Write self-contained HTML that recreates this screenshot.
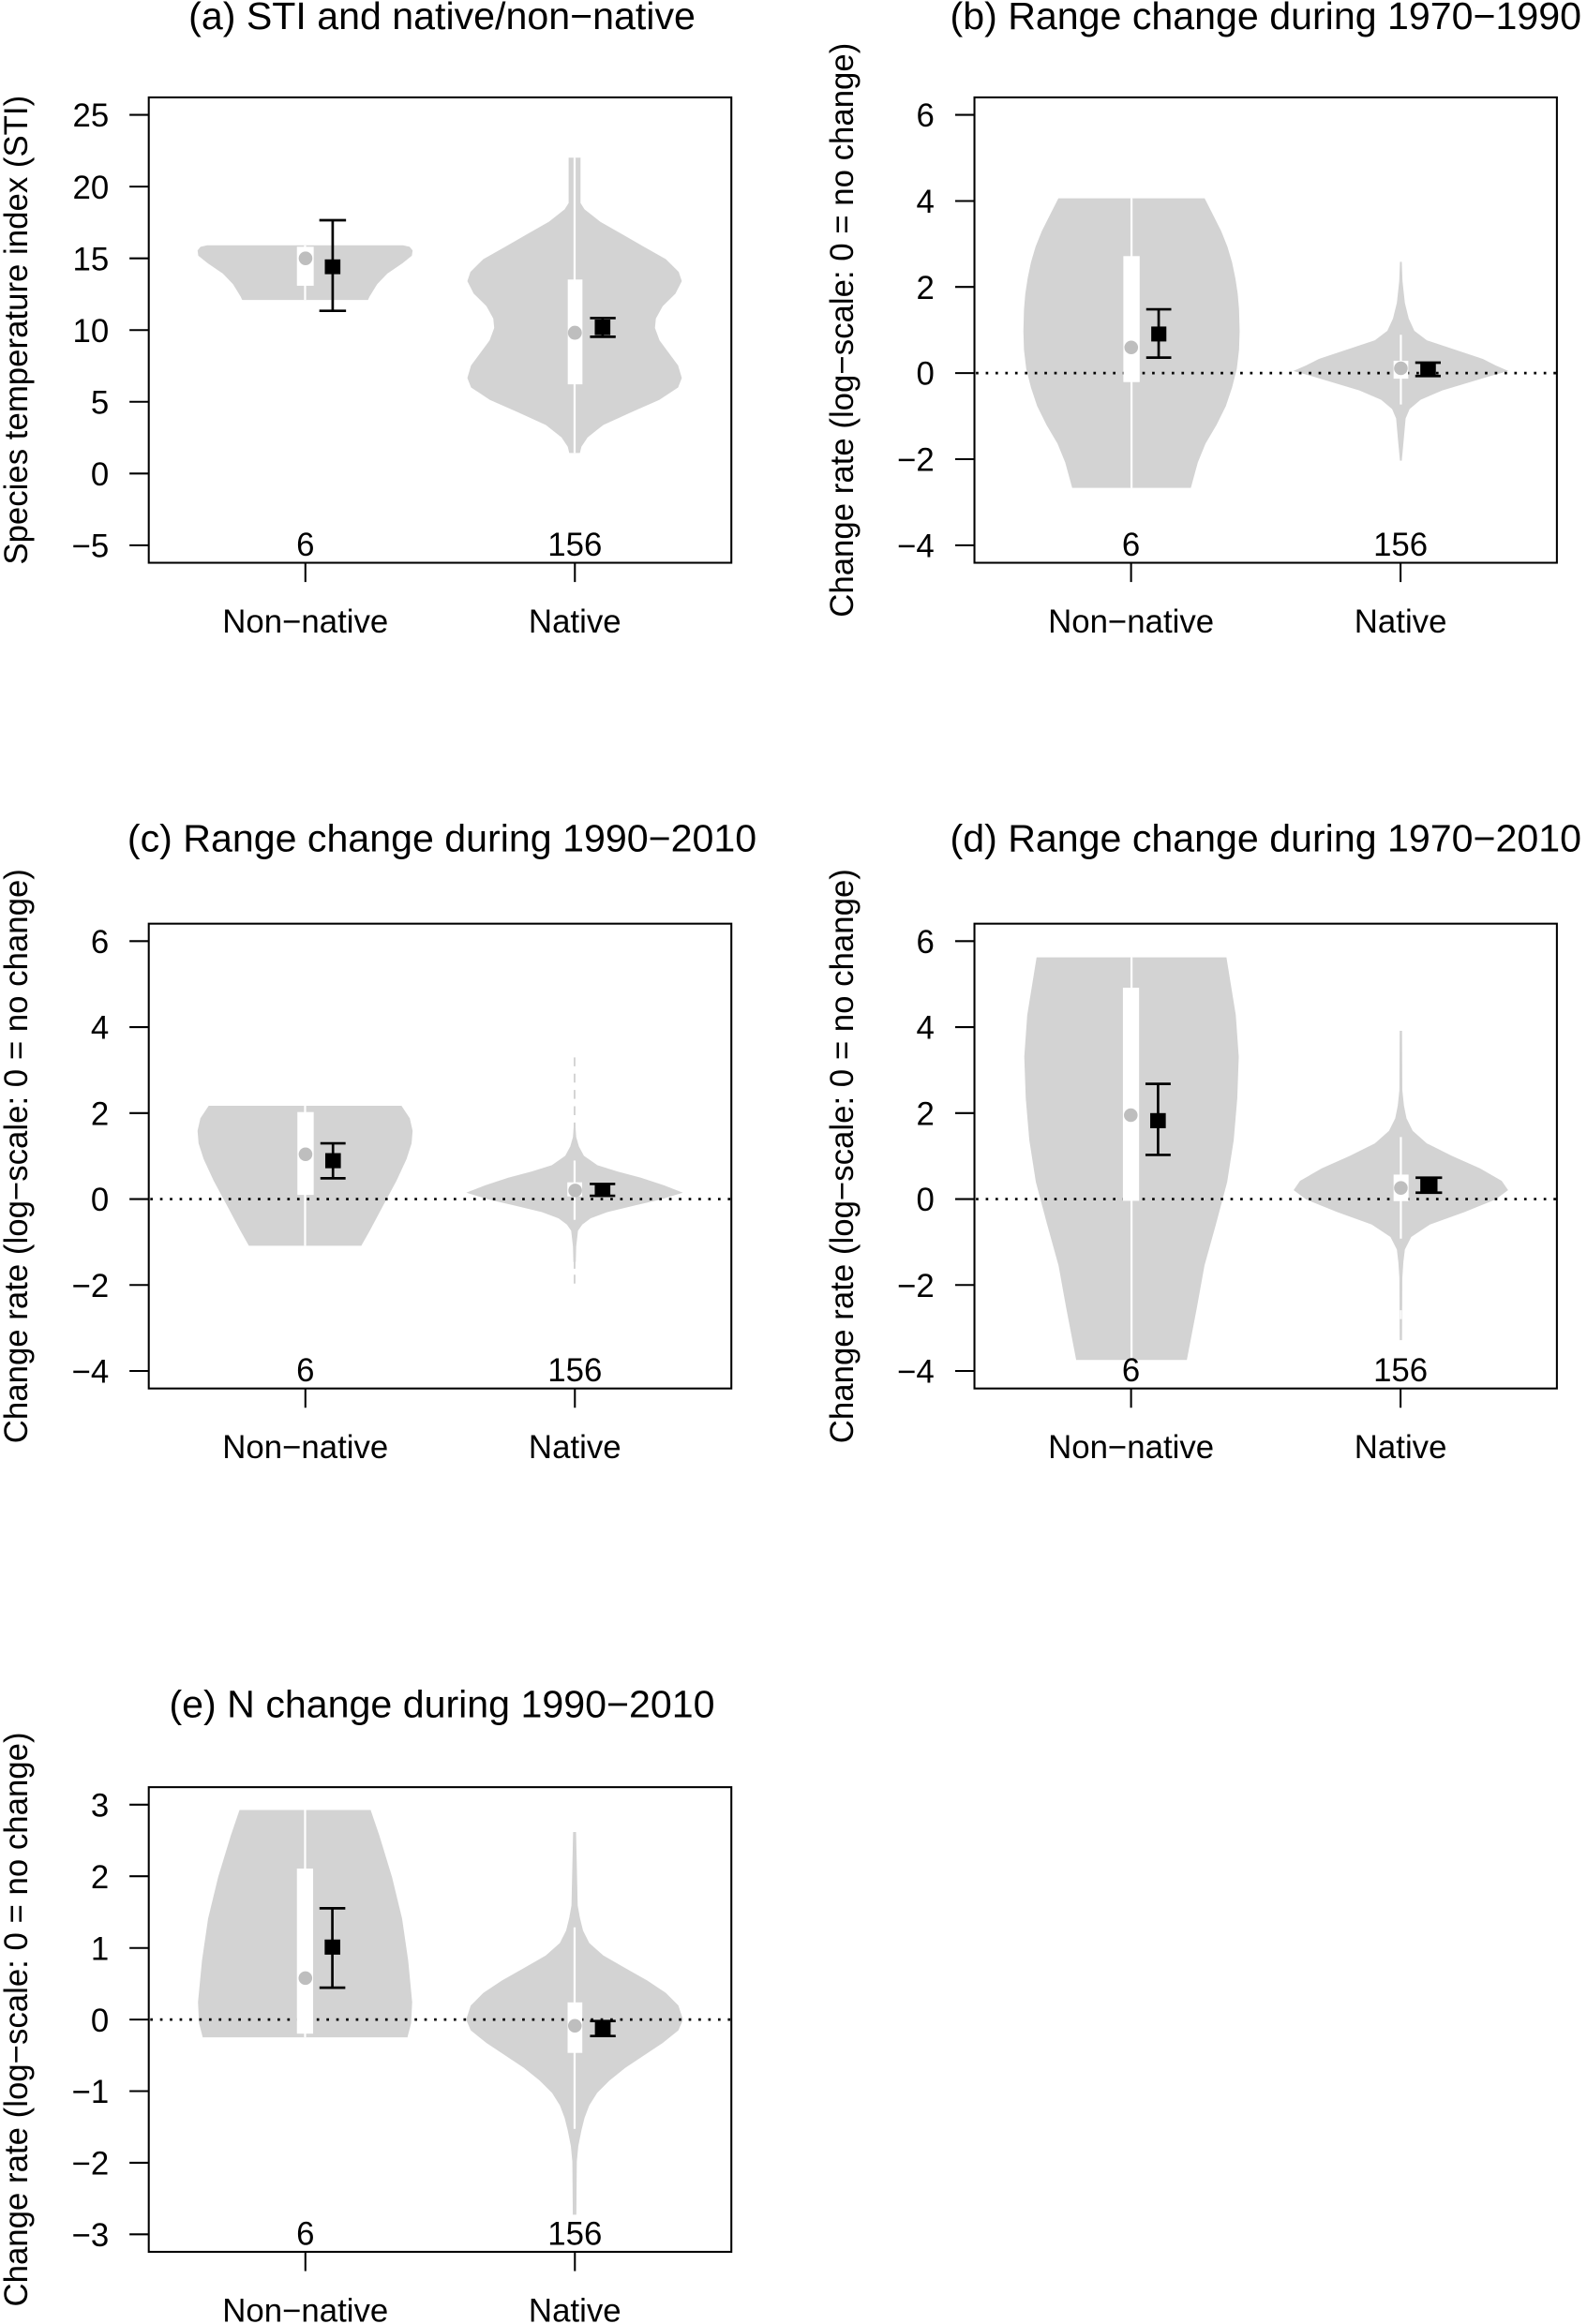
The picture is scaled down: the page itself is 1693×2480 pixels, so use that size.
<!DOCTYPE html>
<html><head><meta charset="utf-8"><style>
html,body{margin:0;padding:0;background:#fff;}
svg{display:block;}
text{font-family:"Liberation Sans",Arial,sans-serif;fill:#000;}
</style></head><body>
<svg width="1693" height="2480" viewBox="0 0 1070 1568" preserveAspectRatio="none" xmlns="http://www.w3.org/2000/svg">
<rect x="0" y="0" width="1070" height="1568" fill="#fff"/>

<!-- ================= PANEL (a) ================= -->
<g>
<polygon fill="#d3d3d3" points="139.7,165.5 135.2,166.5 133.2,169 133.7,172.5 140,177.6 150.3,184.6 157.1,191.7 160.5,197.3 162.2,200 163.3,202.4 248.1,202.4 249.2,200 250.9,197.3 254.3,191.7 261.1,184.6 271.4,177.6 277.7,172.5 278.2,169 276.2,166.5 271.7,165.5"/>
<polygon fill="#d3d3d3" points="383.4,106.4 383.4,137 380.7,141.2 370.1,149.6 355.4,158 340.6,166.5 325.8,174.9 317.2,183.4 315.1,189.7 319.4,198.1 328,206.6 332.6,215 333.2,221.3 330.1,229.7 323.8,238.2 317.6,246.6 315.1,255 317.6,261.4 330.3,269.8 349.3,278.2 368,286.7 378.6,295.1 382.8,301.4 383.8,305.6 391,305.6 392,301.4 396.2,295.1 406.8,286.7 425.5,278.2 444.5,269.8 457.2,261.4 459.7,255 457.2,246.6 451,238.2 444.7,229.7 441.6,221.3 442.2,215 446.8,206.6 455.4,198.1 459.7,189.7 457.6,183.4 449,174.9 434.2,166.5 419.4,158 404.7,149.6 394.1,141.2 391.4,137 391.4,106.4"/>
<line x1="205.7" y1="165.5" x2="205.7" y2="202.4" stroke="#fff" stroke-width="1.4"/>
<line x1="387.4" y1="106.4" x2="387.4" y2="305.6" stroke="#fff" stroke-width="1.4"/>
<rect x="200.2" y="166.5" width="11.3" height="26.3" fill="#fff"/>
<rect x="382.8" y="188.6" width="9.9" height="70.7" fill="#fff"/>
<circle cx="206" cy="174.3" r="4.6" fill="#bebebe"/>
<circle cx="387.6" cy="224.5" r="4.7" fill="#bebebe"/>
<g stroke="#000" stroke-width="1.7">
<line x1="224.3" y1="148.6" x2="224.3" y2="209.7"/><line x1="215.3" y1="148.6" x2="233.3" y2="148.6"/><line x1="215.3" y1="209.7" x2="233.3" y2="209.7"/>
<line x1="406.3" y1="214.6" x2="406.3" y2="227.2"/><line x1="397.8" y1="214.6" x2="415.1" y2="214.6"/><line x1="397.8" y1="227.2" x2="415.1" y2="227.2"/>
</g>
<rect x="219" y="175" width="10.5" height="10" fill="#000"/>
<rect x="401" y="215.6" width="10.5" height="10.5" fill="#000"/>
<rect x="100.3" y="65.7" width="392.8" height="314" fill="none" stroke="#000" stroke-width="1.3"/>
<g stroke="#000" stroke-width="1.3">
<line x1="87.3" y1="77.5" x2="100.3" y2="77.5"/><line x1="87.3" y1="125.9" x2="100.3" y2="125.9"/><line x1="87.3" y1="174.3" x2="100.3" y2="174.3"/><line x1="87.3" y1="222.7" x2="100.3" y2="222.7"/><line x1="87.3" y1="271.1" x2="100.3" y2="271.1"/><line x1="87.3" y1="319.5" x2="100.3" y2="319.5"/><line x1="87.3" y1="367.9" x2="100.3" y2="367.9"/>
<line x1="205.9" y1="379.7" x2="205.9" y2="392.7"/><line x1="387.6" y1="379.7" x2="387.6" y2="392.7"/>
</g>
<g font-size="22" text-anchor="end">
<text x="73.5" y="85.5">25</text><text x="73.5" y="133.9">20</text><text x="73.5" y="182.3">15</text><text x="73.5" y="230.7">10</text><text x="73.5" y="279.1">5</text><text x="73.5" y="327.5">0</text><text x="73.5" y="375.9">−5</text>
</g>
<g font-size="22" text-anchor="middle">
<text x="205.9" y="375">6</text><text x="387.6" y="375">156</text>
<text x="205.9" y="426.7">Non−native</text><text x="387.6" y="426.7">Native</text>
<text transform="translate(18.3,222.7) rotate(-90)">Species temperature index (STI)</text>
</g>
<text x="298" y="19.5" font-size="26" text-anchor="middle">(a) STI and native/non−native</text>
</g>

<!-- ================= PANEL (b) ================= -->
<g>
<polygon fill="#d3d3d3" points="713.6,133.8 707.7,145.4 702.4,156 698.2,166.5 695.1,177 692.9,187.6 691.3,198.1 690.4,208.7 690,223.4 690.4,236.1 691.9,248.7 695.1,261.4 699.3,274 705.6,286.7 713,299.3 718.2,312 722.9,329.2 802.9,329.2 807.6,312 812.8,299.3 820.2,286.7 826.5,274 830.7,261.4 833.9,248.7 835.4,236.1 835.8,223.4 835.4,208.7 834.5,198.1 832.9,187.6 830.7,177 827.6,166.5 823.4,156 818.1,145.4 812.2,133.8"/>
<polygon fill="#d3d3d3" points="943.9,176.6 943.4,189.7 941.8,204.4 939.2,214.9 935.4,223.2 927,229.6 908,235.9 889.1,242.2 880.7,246.5 872,250.3 884.9,253.9 895.4,257.1 916.5,263.4 931.2,269.7 938.6,276 941.3,282.4 942.8,299.2 943.9,310.8 945.1,310.8 946.2,299.2 947.7,282.4 950.4,276 957.8,269.7 972.5,263.4 993.6,257.1 1004.1,253.9 1017,250.3 1008.3,246.5 999.9,242.2 981,235.9 962,229.6 953.6,223.2 949.8,214.9 947.2,204.4 945.6,189.7 945.1,176.6"/>
<line x1="762.9" y1="133.8" x2="762.9" y2="329.2" stroke="#fff" stroke-width="1.4"/>
<line x1="944.5" y1="225.9" x2="944.5" y2="272.9" stroke="#fff" stroke-width="1.4"/>
<line x1="658" y1="251.7" x2="1049.7" y2="251.7" stroke="#000" stroke-width="1.7" stroke-dasharray="1.7,4.9"/>
<rect x="757.4" y="172.8" width="11" height="85" fill="#fff"/>
<rect x="939.6" y="243.4" width="9.9" height="12.1" fill="#fff"/>
<circle cx="762.7" cy="234.4" r="4.6" fill="#bebebe"/>
<circle cx="944.5" cy="248.5" r="4.6" fill="#bebebe"/>
<g stroke="#000" stroke-width="1.7">
<line x1="781.2" y1="208.7" x2="781.2" y2="241.3"/><line x1="772.8" y1="208.7" x2="789.7" y2="208.7"/><line x1="772.8" y1="241.3" x2="789.7" y2="241.3"/>
<line x1="962.8" y1="244.7" x2="962.8" y2="253.7"/><line x1="954.2" y1="244.7" x2="971.4" y2="244.7"/><line x1="954.2" y1="253.7" x2="971.4" y2="253.7"/>
</g>
<rect x="776.2" y="220.3" width="10.2" height="10.1" fill="#000"/>
<rect x="957.6" y="244.6" width="10.5" height="9" fill="#000"/>
<rect x="657" y="65.7" width="392.7" height="314" fill="none" stroke="#000" stroke-width="1.3"/>
<g stroke="#000" stroke-width="1.3">
<line x1="644" y1="77.5" x2="657" y2="77.5"/><line x1="644" y1="135.6" x2="657" y2="135.6"/><line x1="644" y1="193.6" x2="657" y2="193.6"/><line x1="644" y1="251.7" x2="657" y2="251.7"/><line x1="644" y1="309.8" x2="657" y2="309.8"/><line x1="644" y1="367.9" x2="657" y2="367.9"/>
<line x1="762.6" y1="379.7" x2="762.6" y2="392.7"/><line x1="944.3" y1="379.7" x2="944.3" y2="392.7"/>
</g>
<g font-size="22" text-anchor="end">
<text x="630" y="85.5">6</text><text x="630" y="143.6">4</text><text x="630" y="201.6">2</text><text x="630" y="259.7">0</text><text x="630" y="317.8">−2</text><text x="630" y="375.9">−4</text>
</g>
<g font-size="22" text-anchor="middle">
<text x="762.6" y="375">6</text><text x="944.3" y="375">156</text>
<text x="762.6" y="426.7">Non−native</text><text x="944.3" y="426.7">Native</text>
<text transform="translate(575,222.7) rotate(-90)">Change rate (log−scale: 0 = no change)</text>
</g>
<text x="853.4" y="19.5" font-size="26" text-anchor="middle">(b) Range change during 1970−1990</text>
</g>

<!-- ================= PANEL (c) ================= -->
<g>
<polygon fill="#d3d3d3" points="140.7,746.1 135.1,754.5 133.2,763 133.9,771.4 137.3,782 144.1,796.7 153.1,813.5 162.1,830.4 167.8,840.5 243.6,840.5 249.3,830.4 258.3,813.5 267.3,796.7 274.1,782 277.5,771.4 278.2,763 276.3,754.5 270.7,746.1"/>
<polygon fill="#d3d3d3" points="386.9,758.7 386.3,767.2 384.5,773.5 381.1,779.8 372.1,786.1 358.5,790.4 342.7,794.6 326.9,799.8 314.4,804.7 329.4,809.3 347.4,813.5 365.4,817.8 376.6,822 382.2,826.2 385.1,830.4 386.3,841 386.6,851.5 388.2,851.5 388.5,841 389.7,830.4 392.6,826.2 398.2,822 409.4,817.8 427.4,813.5 445.4,809.3 460.4,804.7 447.9,799.8 432.1,794.6 416.3,790.4 402.7,786.1 393.7,779.8 390.3,773.5 388.5,767.2 387.9,758.7"/>
<line x1="387.4" y1="713.4" x2="387.4" y2="760" stroke="#d3d3d3" stroke-width="1.2" stroke-dasharray="6,5"/>
<line x1="387.4" y1="850" x2="387.4" y2="869.4" stroke="#d3d3d3" stroke-width="1.2" stroke-dasharray="6,4"/>
<line x1="205.7" y1="746.1" x2="205.7" y2="840.5" stroke="#fff" stroke-width="1.4"/>
<line x1="387.4" y1="783" x2="387.4" y2="823" stroke="#fff" stroke-width="1.4"/>
<line x1="101.3" y1="809" x2="493.1" y2="809" stroke="#000" stroke-width="1.7" stroke-dasharray="1.7,4.9"/>
<rect x="200.5" y="750.3" width="11" height="55.9" fill="#fff"/>
<rect x="382.5" y="797.7" width="10" height="9.5" fill="#fff"/>
<circle cx="206" cy="778.8" r="4.6" fill="#bebebe"/>
<circle cx="387.8" cy="803.2" r="4.6" fill="#bebebe"/>
<g stroke="#000" stroke-width="1.7">
<line x1="224.5" y1="771.4" x2="224.5" y2="795"/><line x1="216" y1="771.4" x2="233" y2="771.4"/><line x1="216" y1="795" x2="233" y2="795"/>
<line x1="406.2" y1="798.8" x2="406.2" y2="806.8"/><line x1="397.6" y1="798.8" x2="414.8" y2="798.8"/><line x1="397.6" y1="806.8" x2="414.8" y2="806.8"/>
</g>
<rect x="219.3" y="778" width="10.5" height="10.2" fill="#000"/>
<rect x="401" y="798.6" width="10.5" height="9" fill="#000"/>
<rect x="100.3" y="623.2" width="392.8" height="313.6" fill="none" stroke="#000" stroke-width="1.3"/>
<g stroke="#000" stroke-width="1.3">
<line x1="87.3" y1="635" x2="100.3" y2="635"/><line x1="87.3" y1="693" x2="100.3" y2="693"/><line x1="87.3" y1="751" x2="100.3" y2="751"/><line x1="87.3" y1="809" x2="100.3" y2="809"/><line x1="87.3" y1="867" x2="100.3" y2="867"/><line x1="87.3" y1="925" x2="100.3" y2="925"/>
<line x1="205.9" y1="936.8" x2="205.9" y2="949.8"/><line x1="387.6" y1="936.8" x2="387.6" y2="949.8"/>
</g>
<g font-size="22" text-anchor="end">
<text x="73.5" y="643">6</text><text x="73.5" y="701">4</text><text x="73.5" y="759">2</text><text x="73.5" y="817">0</text><text x="73.5" y="875">−2</text><text x="73.5" y="933">−4</text>
</g>
<g font-size="22" text-anchor="middle">
<text x="205.9" y="932.1">6</text><text x="387.6" y="932.1">156</text>
<text x="205.9" y="983.8">Non−native</text><text x="387.6" y="983.8">Native</text>
<text transform="translate(18.3,780) rotate(-90)">Change rate (log−scale: 0 = no change)</text>
</g>
<text x="298" y="574.5" font-size="26" text-anchor="middle">(c) Range change during 1990−2010</text>
</g>

<!-- ================= PANEL (d) ================= -->
<g>
<polygon fill="#d3d3d3" points="698.9,645.9 692.6,684.8 690.6,713 691.6,741.1 694,769.3 698.4,797.5 705.9,825.7 713.7,853.9 718.8,882.1 725.6,917.6 800.2,917.6 807,882.1 812.1,853.9 819.9,825.7 827.4,797.5 831.8,769.3 834.2,741.1 835.2,713 833.2,684.8 826.9,645.9"/>
<polygon fill="#d3d3d3" points="943.7,695.5 943.5,735.6 942.4,746.1 940.7,754.5 936.5,763 927,771.4 910.2,779.8 891.2,788.3 876.5,796.7 872.2,803 880.7,809.3 901.7,817.8 924.9,826.2 937.5,834.6 941.8,843 942.8,851.5 943.5,862 943.7,904.2 945.3,904.2 945.5,862 946.2,851.5 947.2,843 951.5,834.6 964.1,826.2 987.3,817.8 1008.3,809.3 1016.8,803 1012.5,796.7 997.8,788.3 978.8,779.8 962,771.4 952.5,763 948.3,754.5 946.6,746.1 945.5,735.6 945.3,695.5"/>
<line x1="762.9" y1="645.9" x2="762.9" y2="917.6" stroke="#fff" stroke-width="1.4"/>
<line x1="944.5" y1="767.2" x2="944.5" y2="835.7" stroke="#fff" stroke-width="1.4"/>
<line x1="944.5" y1="884" x2="944.5" y2="890" stroke="#fff" stroke-width="1.2"/>
<line x1="658" y1="809" x2="1049.7" y2="809" stroke="#000" stroke-width="1.7" stroke-dasharray="1.7,4.9"/>
<rect x="757.1" y="666.4" width="10.9" height="143.8" fill="#fff"/>
<rect x="939.6" y="792.5" width="10.1" height="17.9" fill="#fff"/>
<circle cx="762.4" cy="752.4" r="4.6" fill="#bebebe"/>
<circle cx="944.5" cy="801.5" r="4.6" fill="#bebebe"/>
<g stroke="#000" stroke-width="1.7">
<line x1="780.8" y1="731.3" x2="780.8" y2="779.2"/><line x1="772.3" y1="731.3" x2="789.3" y2="731.3"/><line x1="772.3" y1="779.2" x2="789.3" y2="779.2"/>
<line x1="963.4" y1="794.6" x2="963.4" y2="804.7"/><line x1="954.4" y1="794.6" x2="972.3" y2="794.6"/><line x1="954.4" y1="804.7" x2="972.3" y2="804.7"/>
</g>
<rect x="775.5" y="751" width="10.5" height="10.2" fill="#000"/>
<rect x="957.6" y="795" width="11.6" height="9.2" fill="#000"/>
<rect x="657" y="623.2" width="392.7" height="313.6" fill="none" stroke="#000" stroke-width="1.3"/>
<g stroke="#000" stroke-width="1.3">
<line x1="644" y1="635" x2="657" y2="635"/><line x1="644" y1="693" x2="657" y2="693"/><line x1="644" y1="751" x2="657" y2="751"/><line x1="644" y1="809" x2="657" y2="809"/><line x1="644" y1="867" x2="657" y2="867"/><line x1="644" y1="925" x2="657" y2="925"/>
<line x1="762.6" y1="936.8" x2="762.6" y2="949.8"/><line x1="944.3" y1="936.8" x2="944.3" y2="949.8"/>
</g>
<g font-size="22" text-anchor="end">
<text x="630" y="643">6</text><text x="630" y="701">4</text><text x="630" y="759">2</text><text x="630" y="817">0</text><text x="630" y="875">−2</text><text x="630" y="933">−4</text>
</g>
<g font-size="22" text-anchor="middle">
<text x="762.6" y="932.1">6</text><text x="944.3" y="932.1">156</text>
<text x="762.6" y="983.8">Non−native</text><text x="944.3" y="983.8">Native</text>
<text transform="translate(575,780) rotate(-90)">Change rate (log−scale: 0 = no change)</text>
</g>
<text x="853.4" y="574.5" font-size="26" text-anchor="middle">(d) Range change during 1970−2010</text>
</g>

<!-- ================= PANEL (e) ================= -->
<g>
<polygon fill="#d3d3d3" points="161.5,1221.2 155.7,1238.2 147.1,1266.4 140.3,1294.5 136.2,1322.7 133.5,1350.9 134.2,1365 136.7,1374.6 274.7,1374.6 277.2,1365 277.9,1350.9 275.2,1322.7 271.1,1294.5 264.3,1266.4 255.7,1238.2 249.9,1221.2"/>
<polygon fill="#d3d3d3" points="386.4,1236.1 385.3,1285.6 383.8,1294 381.7,1302.5 377.5,1310.9 368,1319.4 353.3,1327.8 338.5,1336.2 325.9,1344.6 317.4,1353.1 314.3,1362.6 317.4,1369.9 328,1378.4 340.6,1386.8 353.3,1395.2 363.8,1403.7 372.2,1412.1 377.5,1420.5 380.7,1429 382.8,1437.4 384.9,1448 385.9,1458.5 386.2,1494.3 388.6,1494.3 388.9,1458.5 389.9,1448 392,1437.4 394.1,1429 397.3,1420.5 402.6,1412.1 411,1403.7 421.5,1395.2 434.2,1386.8 446.8,1378.4 457.4,1369.9 460.5,1362.6 457.4,1353.1 448.9,1344.6 436.3,1336.2 421.5,1327.8 406.8,1319.4 397.3,1310.9 393.1,1302.5 391,1294 389.5,1285.6 388.4,1236.1"/>
<line x1="205.7" y1="1221.2" x2="205.7" y2="1374.6" stroke="#fff" stroke-width="1.4"/>
<line x1="387.4" y1="1300.4" x2="387.4" y2="1436.3" stroke="#fff" stroke-width="1.4"/>
<line x1="101.3" y1="1362.6" x2="493.1" y2="1362.6" stroke="#000" stroke-width="1.7" stroke-dasharray="1.7,4.9"/>
<rect x="200.2" y="1260.7" width="10.9" height="111.4" fill="#fff"/>
<rect x="382.7" y="1351" width="9.9" height="34.1" fill="#fff"/>
<circle cx="205.9" cy="1334.6" r="4.6" fill="#bebebe"/>
<circle cx="387.6" cy="1366.8" r="4.6" fill="#bebebe"/>
<g stroke="#000" stroke-width="1.7">
<line x1="224.1" y1="1287.5" x2="224.1" y2="1341.1"/><line x1="215.4" y1="1287.5" x2="232.8" y2="1287.5"/><line x1="215.4" y1="1341.1" x2="232.8" y2="1341.1"/>
<line x1="406.4" y1="1363.6" x2="406.4" y2="1373.7"/><line x1="397.8" y1="1363.6" x2="415.1" y2="1363.6"/><line x1="397.8" y1="1373.7" x2="415.1" y2="1373.7"/>
</g>
<rect x="218.9" y="1308.6" width="10.5" height="10.2" fill="#000"/>
<rect x="401.1" y="1363.6" width="10.6" height="10" fill="#000"/>
<rect x="100.3" y="1205.8" width="392.8" height="313.5" fill="none" stroke="#000" stroke-width="1.3"/>
<g stroke="#000" stroke-width="1.3">
<line x1="87.3" y1="1217.6" x2="100.3" y2="1217.6"/><line x1="87.3" y1="1265.9" x2="100.3" y2="1265.9"/><line x1="87.3" y1="1314.3" x2="100.3" y2="1314.3"/><line x1="87.3" y1="1362.6" x2="100.3" y2="1362.6"/><line x1="87.3" y1="1410.9" x2="100.3" y2="1410.9"/><line x1="87.3" y1="1459.2" x2="100.3" y2="1459.2"/><line x1="87.3" y1="1507.5" x2="100.3" y2="1507.5"/>
<line x1="205.9" y1="1519.3" x2="205.9" y2="1532.3"/><line x1="387.6" y1="1519.3" x2="387.6" y2="1532.3"/>
</g>
<g font-size="22" text-anchor="end">
<text x="73.5" y="1225.6">3</text><text x="73.5" y="1273.9">2</text><text x="73.5" y="1322.3">1</text><text x="73.5" y="1370.6">0</text><text x="73.5" y="1418.9">−1</text><text x="73.5" y="1467.2">−2</text><text x="73.5" y="1515.5">−3</text>
</g>
<g font-size="22" text-anchor="middle">
<text x="205.9" y="1514.6">6</text><text x="387.6" y="1514.6">156</text>
<text x="205.9" y="1566.3">Non−native</text><text x="387.6" y="1566.3">Native</text>
<text transform="translate(18.3,1362.5) rotate(-90)">Change rate (log−scale: 0 = no change)</text>
</g>
<text x="298" y="1158.5" font-size="26" text-anchor="middle">(e) N change during 1990−2010</text>
</g>
</svg>
</body></html>
